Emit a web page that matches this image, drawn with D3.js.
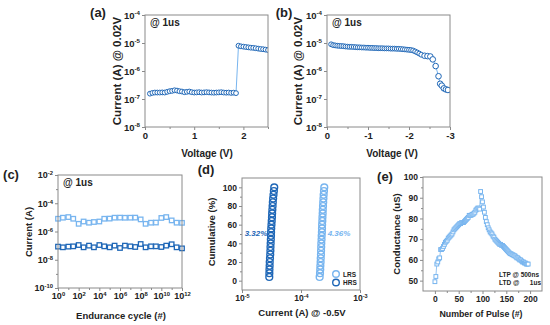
<!DOCTYPE html>
<html>
<head>
<meta charset="utf-8">
<script src="https://cdn.jsdelivr.net/npm/d3@7"></script>
<style>
  body { margin: 0; background: #fff; }
  svg { font-family: "Liberation Sans", Arial, sans-serif; font-weight: bold; }
  .tick line { stroke: #8a8a8a; }
  .tick text { fill: #222; }
</style>
</head>
<body>
<div id="chart"></div>
<script>
// ==========================================================
// Data

// (a) set sweep, read @ 0.02V
var aVolt = [0.10,0.15,0.20,0.25,0.30,0.35,0.40,0.45,0.50,0.55,0.60,0.65,0.70,0.75,0.80,0.85,0.90,0.95,
             1.00,1.05,1.10,1.15,1.20,1.25,1.30,1.35,1.40,1.45,1.50,1.55,1.60,1.65,1.70,1.75,1.80,1.85,
             1.90,1.95,2.00,2.05,2.10,2.15,2.20,2.25,2.30,2.35,2.40,2.45,2.50];
var aCurr = [1.55e-7,1.65e-7,1.7e-7,1.7e-7,1.7e-7,1.72e-7,1.7e-7,1.8e-7,1.9e-7,1.95e-7,2.05e-7,2.0e-7,1.9e-7,1.85e-7,1.75e-7,1.8e-7,1.85e-7,1.75e-7,
             1.7e-7,1.72e-7,1.75e-7,1.7e-7,1.72e-7,1.75e-7,1.72e-7,1.7e-7,1.68e-7,1.7e-7,1.72e-7,1.75e-7,1.7e-7,1.68e-7,1.7e-7,1.65e-7,1.68e-7,1.62e-7,
             8.0e-6,7.6e-6,7.4e-6,7.2e-6,7.0e-6,6.8e-6,6.7e-6,6.5e-6,6.3e-6,6.1e-6,6.0e-6,5.8e-6,5.6e-6];

// (b) reset sweep, read @ 0.02V
var bVolt = [-0.10,-0.15,-0.20,-0.25,-0.30,-0.35,-0.40,-0.45,-0.50,-0.55,-0.60,-0.65,-0.70,-0.75,-0.80,-0.85,-0.90,-0.95,
             -1.00,-1.05,-1.10,-1.15,-1.20,-1.25,-1.30,-1.35,-1.40,-1.45,-1.50,-1.55,-1.60,-1.65,-1.70,-1.75,-1.80,-1.85,-1.90,-1.95,
             -2.00,-2.05,-2.10,-2.15,-2.20,-2.25,-2.30,-2.38,-2.45,-2.52,-2.58,-2.65,-2.72,-2.76,-2.80,-2.85,-2.90,-2.95,-3.00];
var bCurr = [9.0e-6,8.4e-6,8.2e-6,8.0e-6,7.9e-6,7.8e-6,7.7e-6,7.5e-6,7.4e-6,7.3e-6,7.3e-6,7.2e-6,7.1e-6,7.0e-6,7.0e-6,6.9e-6,6.9e-6,6.8e-6,
             6.8e-6,6.7e-6,6.7e-6,6.6e-6,6.6e-6,6.5e-6,6.5e-6,6.5e-6,6.4e-6,6.4e-6,6.4e-6,6.3e-6,6.3e-6,6.3e-6,6.2e-6,6.2e-6,6.1e-6,6.0e-6,5.9e-6,5.8e-6,
             5.7e-6,5.6e-6,5.4e-6,5.0e-6,4.6e-6,4.2e-6,3.8e-6,3.5e-6,3.4e-6,3.3e-6,2.6e-6,1.5e-6,6.5e-7,3.5e-7,3.0e-7,2.4e-7,2.2e-7,2.1e-7,1.6e-7];

// (c) endurance @ 1us
var cCycle = [1,3,1e1,3e1,1e2,3e2,1e3,3e3,1e4,3e4,1e5,3e5,1e6,3e6,1e7,3e7,1e8,3e8,1e9,3e9,1e10,3e10,1e11,3e11,1e12];
var cLRS = [8.0e-6,9.5e-6,1.05e-5,8.0e-6,3.5e-6,5.1e-6,4.2e-6,4.7e-6,5.1e-6,8.0e-6,8.2e-6,9.5e-6,9.6e-6,
            9.4e-6,9.5e-6,9.6e-6,7.2e-6,3.5e-6,4.2e-6,4.3e-6,9.1e-6,1.05e-5,6.1e-6,4.2e-6,4.1e-6];
var cHRS = [8.5e-8,7.6e-8,8.5e-8,8.9e-8,1.1e-7,7.6e-8,1.0e-7,7.6e-8,1.1e-7,8.9e-8,7.6e-8,1.0e-7,6.8e-8,
            1.0e-7,8.9e-8,8.0e-8,1.3e-7,7.6e-8,8.9e-8,8.9e-8,8.0e-8,1.0e-7,1.25e-7,7.6e-8,6.4e-8];

// (d) cumulative distribution @ -0.5V
var dCum = [4,8,12,16,20,24,28,32,36,40,44,48,52,56,60,64,68,72,76,80,84,88,92,96,100];
var dHRS = [2.90e-5,2.91e-5,2.92e-5,2.94e-5,2.95e-5,2.98e-5,3.01e-5,3.03e-5,3.04e-5,3.06e-5,3.08e-5,3.10e-5,3.11e-5,
            3.13e-5,3.16e-5,3.19e-5,3.22e-5,3.24e-5,3.27e-5,3.30e-5,3.33e-5,3.37e-5,3.42e-5,3.47e-5,3.52e-5];
var dLRS = [2.07e-4,2.10e-4,2.12e-4,2.13e-4,2.15e-4,2.16e-4,2.18e-4,2.19e-4,2.20e-4,2.21e-4,2.23e-4,2.24e-4,2.26e-4,
            2.27e-4,2.28e-4,2.30e-4,2.31e-4,2.33e-4,2.34e-4,2.36e-4,2.38e-4,2.40e-4,2.42e-4,2.45e-4,2.48e-4];
var dSpread = ["3.32%", "4.36%"];
var dLegend = ["LRS", "HRS"];

// (e) LTP / LTD conductance
var ePulse = [0,2,4,6,8,10,12,14,16,18,20,22,24,26,28,30,32,34,36,38,40,42,44,46,48,50,52,54,56,58,60,62,64,66,68,70,
              72,74,76,78,80,82,84,86,88,90,92,94,
              96,98,100,102,104,106,108,110,112,114,116,118,120,122,124,126,128,130,132,134,136,138,140,142,144,146,148,
              150,152,154,156,158,160,162,164,166,168,170,172,174,176,178,180,182,184,186,188,190,192,194,196];
var eCond = [49.5,52,58,59,60.5,61,65,65,65.5,66.5,67.5,68.5,69,69.5,70.5,71,71.5,72,72.5,73.5,74.5,75,75.5,76,76.5,77,77.5,77.5,78,78,78,78.5,79,79.5,80,80.5,
             81.5,81.5,81.5,82,82,82.5,83,84,84.5,85,85,84.5,
             93,90.5,88,85.5,83,80.5,78.5,77,75.5,74.5,73.5,73,72.5,71.5,71,70,69.5,69,68.5,68,67.5,67.5,67,67,66.5,66,65.5,
             65,64.5,64,63.5,63,63,62.5,62.5,62,62,61.5,61,61,60.5,60,60,59.5,59,59,58.5,58.5,58,58,58];
var eNotes = ["LTP @ 500ns", "LTD @", "1us"];

// ==========================================================
var dark = "#1f67b7";
var light = "#78b5ef";
var frameCol = "#8a8a8a";

var svg = d3.select("#chart").append("svg")
  .attr("width", 550)
  .attr("height", 325);

// superscript tick labels on log axes
function powLabels(sel, supSize) {
  sel.selectAll(".tick text").each(function(d) {
    var e = Math.round(Math.log10(d));
    var t = d3.select(this).text(null);
    t.append("tspan").text("10");
    t.append("tspan").attr("dy", "-0.5em").style("font-size", supSize + "px").text(e);
  });
}

function frame(x, y) {
  svg.append("rect")
    .attr("x", x.range()[0])
    .attr("y", y.range()[1])
    .attr("width", x.range()[1] - x.range()[0])
    .attr("height", y.range()[0] - y.range()[1])
    .attr("fill", "none")
    .attr("stroke", frameCol)
    .attr("stroke-width", 1);
}

// plain hyphen, as in the figure
var plain = d => String(d);

// major + minor ticks for one panel
function axes(x, y, opt) {
  var yb = y.range()[0], xl = x.range()[0];
  var gx = svg.append("g").attr("transform", `translate(0,${yb})`)
    .style("font-size", opt.fs + "px")
    .call(d3.axisBottom(x).tickValues(opt.xt).tickSize(3).tickPadding(2).tickFormat(opt.xlog ? null : plain));
  var gy = svg.append("g").attr("transform", `translate(${xl},0)`)
    .style("font-size", opt.fs + "px")
    .call(d3.axisLeft(y).tickValues(opt.yt).tickSize(3).tickPadding(2).tickFormat(opt.ylog ? null : plain));
  gx.select(".domain").remove();
  gy.select(".domain").remove();
  gx.selectAll("text").style("font-family", null);
  gy.selectAll("text").style("font-family", null);
  if (opt.xlog) powLabels(gx, opt.fs * 0.65);
  if (opt.ylog) powLabels(gy, opt.fs * 0.65);
  if (opt.xm) {
    var mx = svg.append("g").attr("transform", `translate(0,${yb})`)
      .call(d3.axisBottom(x).tickValues(opt.xm).tickSize(2).tickFormat(""));
    mx.select(".domain").remove();
  }
  if (opt.ym) {
    var my = svg.append("g").attr("transform", `translate(${xl},0)`)
      .call(d3.axisLeft(y).tickValues(opt.ym).tickSize(2).tickFormat(""));
    my.select(".domain").remove();
  }
}

function label(txt, x, y, size, rot, anchor, fill, style) {
  var t = svg.append("text")
    .attr("x", x).attr("y", y)
    .attr("text-anchor", anchor || "middle")
    .attr("fill", fill || "#222")
    .style("font-size", size + "px")
    .text(txt);
  if (rot) t.attr("transform", `rotate(-90,${x},${y})`);
  if (style) t.style("font-style", style);
  return t;
}

function clipFor(id, x, y) {
  svg.append("clipPath").attr("id", id).append("rect")
    .attr("x", x.range()[0]).attr("y", y.range()[1])
    .attr("width", x.range()[1] - x.range()[0])
    .attr("height", y.range()[0] - y.range()[1]);
}

// ===========================================================
// (a)
var aX = d3.scaleLinear().domain([0, 2.5]).range([145, 268]);
var aY = d3.scaleLog().domain([1e-8, 1e-4]).range([127, 15]);
axes(aX, aY, {xt: [0, 1, 2], xm: [0.5, 1.5, 2.5], yt: [1e-8, 1e-7, 1e-6, 1e-5, 1e-4], ylog: true, fs: 9.5});
clipFor("clipA", aX, aY);
var aLine = d3.line().x((d, i) => aX(aVolt[i])).y(d => aY(d));
svg.append("path").datum(aCurr).attr("clip-path", "url(#clipA)")
  .attr("d", aLine).attr("fill", "none").attr("stroke", light).attr("stroke-width", 1);
svg.append("g").attr("clip-path", "url(#clipA)").selectAll("circle").data(aCurr).enter().append("circle")
  .attr("cx", (d, i) => aX(aVolt[i])).attr("cy", d => aY(d)).attr("r", 2.4)
  .attr("fill", "#fff").attr("stroke", dark).attr("stroke-width", 1);
frame(aX, aY);
label("(a)", 98, 17, 13);
label("@ 1us", 150, 26, 10, false, "start");
label("Current (A) @ 0.02V", 121, 71, 11.5, true);
label("Voltage (V)", 207, 157, 10);

// ===========================================================
// (b)
var bX = d3.scaleLinear().domain([0, -3]).range([327, 450]);
var bY = d3.scaleLog().domain([1e-8, 1e-4]).range([127, 15]);
axes(bX, bY, {xt: [0, -1, -2, -3], xm: [-0.5, -1.5, -2.5], yt: [1e-8, 1e-7, 1e-6, 1e-5, 1e-4], ylog: true, fs: 9.5});
clipFor("clipB", bX, bY);
var bLine = d3.line().x((d, i) => bX(bVolt[i])).y(d => bY(d));
svg.append("path").datum(bCurr).attr("clip-path", "url(#clipB)")
  .attr("d", bLine).attr("fill", "none").attr("stroke", light).attr("stroke-width", 1);
svg.append("g").attr("clip-path", "url(#clipB)").selectAll("circle").data(bCurr.slice(0, -1)).enter().append("circle")
  .attr("cx", (d, i) => bX(bVolt[i])).attr("cy", d => bY(d))
  .attr("r", (d, i) => bVolt[i] < -2.3 ? 2.8 : 2.4)
  .attr("fill", "#fff").attr("stroke", dark).attr("stroke-width", 1);
frame(bX, bY);
label("(b)", 284, 17, 13);
label("@ 1us", 332, 26, 10, false, "start");
label("Current (A) @ 0.02V", 302, 71, 11.5, true);
label("Voltage (V)", 392, 157, 10);

// ===========================================================
// (c)
var cX = d3.scaleLog().domain([1, 1e12]).range([58, 182]);
var cY = d3.scaleLog().domain([1e-10, 1e-2]).range([288, 175]);
axes(cX, cY, {xt: [1, 1e2, 1e4, 1e6, 1e8, 1e10, 1e12], xlog: true, xm: [1e1, 1e3, 1e5, 1e7, 1e9, 1e11],
  yt: [1e-10, 1e-8, 1e-6, 1e-4, 1e-2], ylog: true, ym: [1e-9, 1e-7, 1e-5, 1e-3], fs: 9});
var sq = 4.5;
[[cLRS, light], [cHRS, dark]].forEach(function(s) {
  svg.append("path").datum(s[0])
    .attr("d", d3.line().x((d, i) => cX(cCycle[i])).y(d => cY(d)))
    .attr("fill", "none").attr("stroke", s[1]).attr("stroke-width", 0.8);
  svg.append("g").selectAll("rect").data(s[0]).enter().append("rect")
    .attr("x", (d, i) => cX(cCycle[i]) - sq / 2).attr("y", d => cY(d) - sq / 2)
    .attr("width", sq).attr("height", sq)
    .attr("fill", "#fff").attr("stroke", s[1]).attr("stroke-width", 1.3);
});
frame(cX, cY);
label("(c)", 11, 179, 13);
label("@ 1us", 63, 186, 10, false, "start");
label("Current (A)", 32, 232, 9.5, true);
label("Endurance cycle (#)", 121, 319, 9.5);

// ===========================================================
// (d)
var dX = d3.scaleLog().domain([1e-5, 1e-3]).range([242, 360]);
var dY = d3.scaleLinear().domain([-10, 110]).range([290, 178]);
axes(dX, dY, {xt: [1e-5, 1e-4, 1e-3], xlog: true, yt: [0, 20, 40, 60, 80, 100], ym: [10, 30, 50, 70, 90], fs: 8.5});
[[dLRS, light], [dHRS, dark]].forEach(function(s) {
  svg.append("g").selectAll("circle").data(s[0]).enter().append("circle")
    .attr("cx", d => dX(d)).attr("cy", (d, i) => dY(dCum[i])).attr("r", 3.4)
    .attr("fill", "none").attr("stroke", s[1]).attr("stroke-width", 1.4);
});
label(dSpread[0], 256, 236, 8, false, "middle", dark, "italic");
label(dSpread[1], 339, 236, 8, false, "middle", light, "italic");
dLegend.forEach(function(name, i) {
  svg.append("circle").attr("cx", 336).attr("cy", 274 + i * 8.5).attr("r", 3.3)
    .attr("fill", "none").attr("stroke", i ? dark : light).attr("stroke-width", 1.4);
  label(name, 343, 276.5 + i * 8.5, 6.5, false, "start");
});
frame(dX, dY);
label("(d)", 206, 174, 13);
label("Cumulative (%)", 215, 232, 9.5, true);
label("Current (A) @ -0.5V", 302, 316, 9.5);

// ===========================================================
// (e)
var eX = d3.scaleLinear().domain([-25, 225]).range([423, 542]);
var eY = d3.scaleLinear().domain([45, 100]).range([291, 177]);
axes(eX, eY, {xt: [0, 50, 100, 150, 200], xm: [25, 75, 125, 175], yt: [50, 60, 70, 80, 90, 100], ym: [55, 65, 75, 85, 95], fs: 8.5});
svg.append("path").datum(eCond)
  .attr("d", d3.line().x((d, i) => eX(ePulse[i])).y(d => eY(d)))
  .attr("fill", "none").attr("stroke", light).attr("stroke-width", 0.8);
var esq = 3.8;
svg.append("g").selectAll("rect").data(eCond).enter().append("rect")
  .attr("x", (d, i) => eX(ePulse[i]) - esq / 2).attr("y", d => eY(d) - esq / 2)
  .attr("width", esq).attr("height", esq)
  .attr("fill", "#fff").attr("stroke", light).attr("stroke-width", 1);
label(eNotes[0], 499, 276.5, 6.5, false, "start");
label(eNotes[1], 499, 284.5, 6.5, false, "start");
label(eNotes[2], 541, 284.5, 6.5, false, "end");
frame(eX, eY);
label("(e)", 385, 181, 13);
label("Conductance (uS)", 400, 234, 9.5, true);
label("Number of Pulse (#)", 481, 317, 8.8);
</script>
</body>
</html>
